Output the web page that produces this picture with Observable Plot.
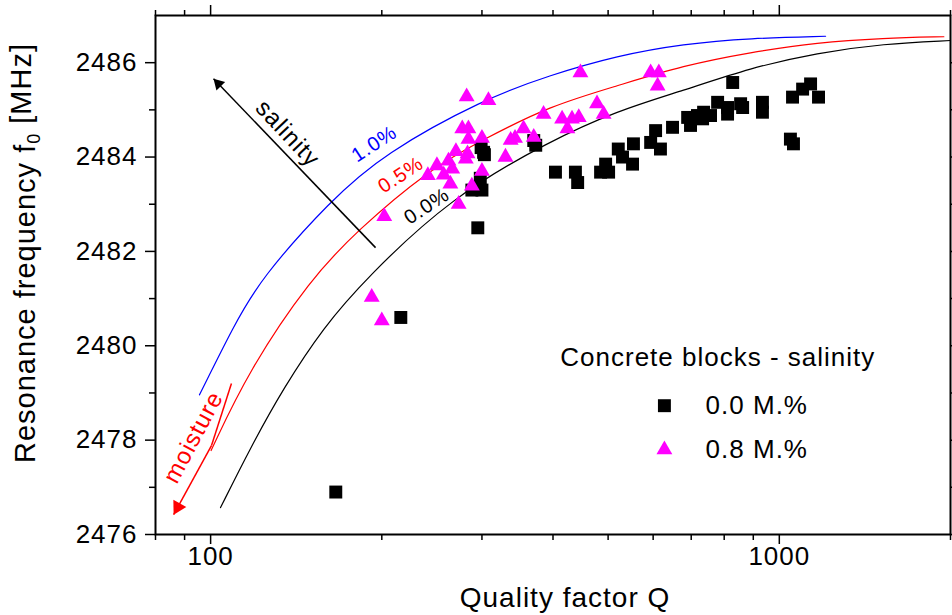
<!DOCTYPE html>
<html>
<head>
<meta charset="utf-8">
<script src="https://cdn.jsdelivr.net/npm/d3@7"></script>
<script src="https://cdn.jsdelivr.net/npm/@observablehq/plot@0.6"></script>
<style>
  body { margin: 0; background: #fff; }
  #chart svg { display: block; }
  #chart text { letter-spacing: 1px; }
</style>
</head>
<body>
<div id="chart"></div>
<script>
// Measured blocks: [quality factor Q, resonance frequency f0 in MHz]
const salinity00 = [
  [166, 2476.9], [216, 2480.6], [295, 2482.5], [288, 2483.3], [300, 2483.3],
  [298, 2483.55], [302, 2484.1], [299, 2484.2], [303, 2484.05], [373, 2484.25],
  [370, 2484.35], [404, 2483.68], [438, 2483.68], [442, 2483.46], [485, 2483.68],
  [495, 2483.85], [501, 2483.68], [521, 2484.17], [530, 2484.0], [552, 2483.85],
  [554, 2484.28], [594, 2484.31], [606, 2484.56], [618, 2484.17], [649, 2484.63],
  [690, 2484.84], [698, 2484.67], [718, 2484.88], [733, 2484.81], [736, 2484.95],
  [757, 2484.88], [779, 2485.16], [811, 2484.91], [811, 2485.05], [828, 2485.58],
  [855, 2485.13], [862, 2485.05], [934, 2485.16], [934, 2484.95], [1046, 2484.38],
  [1059, 2484.28], [1055, 2485.27], [1099, 2485.44], [1135, 2485.55], [1172, 2485.27]
];
const salinity08 = [
  [192, 2481.03], [200, 2480.53], [202, 2482.74], [241, 2483.61], [250, 2483.82],
  [257, 2483.62], [262, 2483.92], [266, 2483.75], [264, 2483.43], [270, 2484.12],
  [273, 2483.0], [277, 2484.6], [283, 2484.07], [281, 2483.96], [284, 2484.6],
  [284, 2484.38], [288, 2483.39], [282, 2485.28], [300, 2484.4], [300, 2483.7],
  [308, 2485.2], [330, 2484.0], [337, 2484.36], [343, 2484.4], [355, 2484.6],
  [370, 2484.42], [385, 2484.91], [415, 2484.81], [424, 2484.6], [432, 2484.81],
  [444, 2484.84], [447, 2485.79], [478, 2485.13], [491, 2484.91], [594, 2485.79],
  [614, 2485.79], [611, 2485.51]
];

// Model curves for 0.0 %, 0.5 % and 1.0 % salinity
const curve00 = [
  [104.1, 2476.57], [117.5, 2477.84], [134.4, 2479.11], [157.9, 2480.39], [187.3, 2481.42],
  [264.1, 2483.14], [396, 2484.35], [519, 2484.98], [678, 2485.41], [890, 2485.89],
  [1167, 2486.21], [1525, 2486.40], [2000, 2486.47]
];
const curve05 = [
  [100.2, 2477.78], [116.6, 2479.47], [149.9, 2481.42], [181.1, 2482.44],
  [240.4, 2483.71], [302.3, 2484.38], [396, 2485.09], [519, 2485.51], [678, 2485.94],
  [890, 2486.22], [1167, 2486.43], [1525, 2486.52], [1947, 2486.55]
];
const curve10 = [
  [95.6, 2478.96], [109.9, 2480.43], [122.4, 2481.42], [162.5, 2483.08],
  [201.6, 2484.07], [302.3, 2485.23], [396, 2485.74], [519, 2486.15], [678, 2486.40],
  [890, 2486.52], [1206, 2486.56]
];

// Curve labels: [Q, f0, text]
const curveLabels = [
  [194, 2484.28, "1.0%"],
  [216, 2483.62, "0.5%"],
  [240, 2482.96, "0.0%"]
];

// Trend arrows: salinity (upward) and moisture (downward)
const salinityArrow = [[195, 2482.08], [101.2, 2485.66]];
const salinityWord = [136.6, 2484.5, "salinity"];
const moistureBar = [[108.8, 2479.2], [100.4, 2477.89]];
const moistureArrow = [[100.4, 2477.89], [86.1, 2476.42]];
const moistureWord = [93.3, 2478.06, "moisture"];

// Legend entries inside the plot
const legendTitle = [412, 2479.75, "Concrete blocks - salinity"];
const legendRows = [
  [628, 742, 2478.73, "0.0 M.%"],
  [628, 742, 2477.80, "0.8 M.%"]
];

// Axis ticks
const xMajorTicks = [100, 1000];
const xMinorTicks = [80, 90, 200, 300, 400, 500, 600, 700, 800, 900, 2000];
const yMajorTicks = [2476, 2478, 2480, 2482, 2484, 2486];
const yMinorTicks = [2477, 2479, 2481, 2483, 2485];

const xTitle = "Quality factor Q";
const yTitleParts = ["Resonance frequency f", "0", " [MHz]"];

const font = "'Liberation Sans', Arial, Helvetica, sans-serif";
const blue = "#0000ff", red = "#ff0000", magenta = "#ff00ff";

const tickStyle = {strokeWidth: 1.5, fontSize: 26, label: null};

const plot = Plot.plot({
  width: 952,
  height: 615,
  marginLeft: 155,
  marginRight: 2,
  marginTop: 15,
  marginBottom: 81,
  style: {fontFamily: font, background: "white", color: "black", overflow: "visible"},
  x: {type: "log", domain: [80, 2000]},
  y: {domain: [2476, 2487]},
  marks: [
    // axes: bottom / left with labels, top / right mirrored without labels
    Plot.axisX({...tickStyle, anchor: "bottom", ticks: xMajorTicks, tickSize: 10, tickPadding: 2, tickFormat: d3.format("d")}),
    Plot.axisX({...tickStyle, anchor: "bottom", ticks: xMinorTicks, tickSize: 6, tickFormat: () => ""}),
    Plot.axisX({...tickStyle, anchor: "top", ticks: xMajorTicks, tickSize: 11, tickFormat: () => ""}),
    Plot.axisX({...tickStyle, anchor: "top", ticks: xMinorTicks, tickSize: 6, tickFormat: () => ""}),
    Plot.axisY({...tickStyle, anchor: "left", ticks: yMajorTicks, tickSize: 10, tickPadding: 8, tickFormat: d3.format("d")}),
    Plot.axisY({...tickStyle, anchor: "left", ticks: yMinorTicks, tickSize: 6, tickFormat: () => ""}),
    Plot.axisY({...tickStyle, anchor: "right", ticks: yMajorTicks, tickSize: 8, tickFormat: () => ""}),
    Plot.axisY({...tickStyle, anchor: "right", ticks: yMinorTicks, tickSize: 5, tickFormat: () => ""}),
    Plot.frame({stroke: "black", strokeWidth: 2}),

    // axis titles
    Plot.text([xTitle], {frameAnchor: "bottom", text: d => d, dy: 64, dx: 12, lineAnchor: "middle", textAnchor: "middle", fontSize: 28, fill: "black"}),
    Plot.text([yTitleParts.join("")], {frameAnchor: "left", text: d => d, dx: -130, dy: -22, rotate: -90,
      textAnchor: "middle", lineAnchor: "middle", fontSize: 29, fill: "black"}),

    // model curves
    Plot.line(curve10, {x: d => d[0], y: d => d[1], stroke: blue, strokeWidth: 1.2, curve: "basis"}),
    Plot.line(curve05, {x: d => d[0], y: d => d[1], stroke: red, strokeWidth: 1.2, curve: "basis"}),
    Plot.line(curve00, {x: d => d[0], y: d => d[1], stroke: "black", strokeWidth: 1.2, curve: "basis"}),
    Plot.text(curveLabels, {x: d => d[0], y: d => d[1], text: d => d[2], rotate: -33, fontSize: 20,
      fill: (d, i) => [blue, red, "black"][i]}),

    // salinity trend arrow
    Plot.link([salinityArrow], {x1: d => d[0][0], y1: d => d[0][1], x2: d => d[1][0], y2: d => d[1][1], stroke: "black", strokeWidth: 1.5}),
    Plot.dot([salinityArrow[1]], {x: d => d[0], y: d => d[1], symbol: "triangle", r: 4.5, rotate: -44, dx: 4.8, dy: 5.0, fill: "black", stroke: "none"}),
    Plot.text([salinityWord], {x: d => d[0], y: d => d[1], text: d => d[2], rotate: 47, fontSize: 24, fill: "black"}),

    // moisture trend arrow
    Plot.link([moistureBar, moistureArrow], {x1: d => d[0][0], y1: d => d[0][1], x2: d => d[1][0], y2: d => d[1][1], stroke: red, strokeWidth: 1.5}),
    Plot.dot([moistureArrow[1]], {x: d => d[0], y: d => d[1], symbol: "triangle", r: 5.5, rotate: -151, dx: 4.1, dy: -7.5, fill: red, stroke: "none"}),
    Plot.text([moistureWord], {x: d => d[0], y: d => d[1], text: d => d[2], rotate: -62, fontSize: 24, fill: red}),

    // measurements
    Plot.dot(salinity00, {x: d => d[0], y: d => d[1], symbol: "square", r: 7.3, fill: "black", stroke: "none"}),
    Plot.dot(salinity08, {x: d => d[0], y: d => d[1], symbol: "triangle", r: 5.9, fill: magenta, stroke: "none"}),

    // legend
    Plot.text([legendTitle], {x: d => d[0], y: d => d[1], text: d => d[2], textAnchor: "start", fontSize: 26, fill: "black"}),
    Plot.dot([legendRows[0]], {x: d => d[0], y: d => d[2], symbol: "square", r: 7.3, fill: "black", stroke: "none"}),
    Plot.dot([legendRows[1]], {x: d => d[0], y: d => d[2], symbol: "triangle", r: 5.9, fill: magenta, stroke: "none"}),
    Plot.text(legendRows, {x: d => d[1], y: d => d[2], text: d => d[3], textAnchor: "start", fontSize: 26, fill: "black"})
  ]
});

// subscript 0 in the frequency symbol of the y title
d3.select(plot).selectAll("text")
  .filter(function () { return this.textContent === yTitleParts.join(""); })
  .each(function () {
    const t = d3.select(this);
    t.text(null);
    t.append("tspan").text(yTitleParts[0]);
    t.append("tspan").attr("dy", "0.3em").attr("font-size", "62%").text(yTitleParts[1]);
    t.append("tspan").attr("dy", "-0.3em").text(yTitleParts[2]);
  });

document.getElementById("chart").append(plot);
</script>
</body>
</html>
